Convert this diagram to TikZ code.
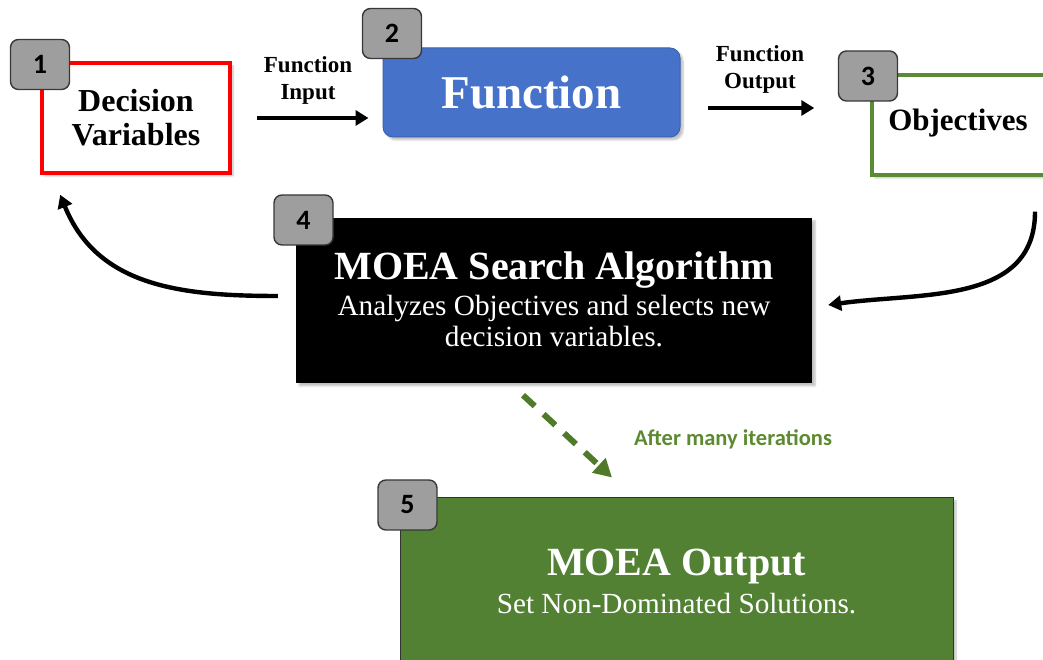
\documentclass[tikz,border=0pt]{standalone}
\usepackage{fontspec}
\setmainfont{Liberation Serif}
\newfontfamily\calfont{Carlito}
\usetikzlibrary{arrows.meta,calc,shadows.blur}
\definecolor{badgegray}{HTML}{9E9E9E}
\definecolor{badgeline}{HTML}{383838}
\definecolor{fnblue}{HTML}{4673C9}
\definecolor{fnblueline}{HTML}{3A62AE}
\definecolor{objgreen}{HTML}{5A8A36}
\definecolor{outgreen}{HTML}{528133}
\definecolor{dashgreen}{HTML}{4E7A2A}
\definecolor{labgreen}{HTML}{5B8A30}
\begin{document}
\begin{tikzpicture}[x=1pt,y=1pt,
  badge/.style={draw=badgeline,line width=1.4pt,fill=badgegray,rounded corners=8pt,
    minimum width=59pt,minimum height=50pt,inner sep=0pt,
    font=\calfont\bfseries\fontsize{28}{28}\selectfont,text=black},
  softshadow/.style={blur shadow={shadow xshift=3pt,shadow yshift=-3pt,shadow blur steps=6,shadow opacity=25}},
  flowarr/.style={line width=4.8pt,-{Triangle[length=13pt,width=15pt]}},
  curvarr/.style={line width=4.4pt,-{Triangle[length=13pt,width=15pt]}},
  smalllab/.style={font=\bfseries\fontsize{23}{27}\selectfont,align=center},
  box/.style={inner sep=0pt,align=center}
]
\useasboundingbox (0,0) rectangle (1043,660);
\begin{scope}
\clip (0,0) rectangle (1043,660);
% Box 1
\node[box,draw=red,line width=3.6pt,fill=white,softshadow,minimum width=188pt,minimum height=110pt,
  font=\bfseries\fontsize{32}{34}\selectfont] (n1) at (136,542) {Decision\\Variables};
\node[badge] (b1) at (40,595.5) {1};
% Box 2
\node[box,draw=fnblueline,line width=1pt,fill=fnblue,rounded corners=10pt,softshadow,
  minimum width=297pt,minimum height=89pt,text=white,
  font=\bfseries\fontsize{47}{47}\selectfont] (n2) at (531.5,567.5) {Function};
\node[badge] (b2) at (392,626.5) {2};
% Box 3
\node[box,draw=objgreen,line width=3.4pt,fill=white,softshadow,minimum width=228pt,minimum height=100pt] (n3) at (986,535) {};
\node[box,font=\bfseries\fontsize{31}{34}\selectfont] (n3t) at (958,537) {Objectives};
\node[badge] (b3) at (868,584) {3};
% Box 4
\node[box,fill=black,softshadow,minimum width=516pt,minimum height=165pt] (n4) at (554,359.5) {};
\node[box,text=white,font=\bfseries\fontsize{40}{40}\selectfont] (n4t) at (554,390) {MOEA Search Algorithm};
\node[box,text=white,font=\fontsize{29.3}{31}\selectfont] (n4s) at (554,339) {Analyzes Objectives and selects new\\decision variables.};
\node[badge] (b4) at (303.5,440) {4};
% Box 5
\node[box,draw=black!80,line width=1pt,fill=outgreen,softshadow,minimum width=553pt,minimum height=222pt] (n5) at (676.5,51) {};
\node[box,text=white,font=\bfseries\fontsize{40}{40}\selectfont] (n5t) at (676.5,93) {MOEA Output};
\node[box,text=white,font=\fontsize{29.2}{31}\selectfont] (n5s) at (676.5,56) {Set Non-Dominated Solutions.};
\node[badge] (b5) at (407.5,155) {5};
% labels
\node[smalllab] (l1) at (308,580) {Function\\Input};
\node[smalllab] (l2) at (760,591) {Function\\Output};
\node[font=\calfont\bfseries\fontsize{22.5}{22.5}\selectfont,text=labgreen] (l3) at (733,221) {After many iterations};
% straight arrows
\coordinate (a1s) at ([xshift=25pt]n1.east);
\coordinate (a1e) at ($(a1s -| n2.west)+(-14,0)$);
\draw[flowarr] (a1s) -- (a1e);
\coordinate (a2s) at ([shift={(27pt,-15.5pt)}]n2.east);
\coordinate (a2e) at ($(a2s -| n3.west)+(-56,0)$);
\draw[flowarr] (a2s) -- (a2e);
% curved arrows
\coordinate (c1s) at ([shift={(-18pt,4.5pt)}]n4.west);
\coordinate (c1e) at ([shift={(20pt,-20pt)}]n1.south west);
\draw[curvarr] (c1s) to[out=180,in=-68,looseness=1.05] (c1e);
\coordinate (c2s) at ([shift={(49pt,-35pt)}]n3.south);
\coordinate (c2e) at ([shift={(16pt,-4.5pt)}]n4.east);
\draw[curvarr] (c2s) to[out=-90,in=8,looseness=1.05] (c2e);
% dashed arrow
\coordinate (d1s) at ([shift={(-31pt,-12pt)}]n4.south);
\coordinate (d1e) at ([shift={(-64.5pt,20pt)}]n5.north);
\draw[dashgreen,line width=6pt,dash pattern=on 16pt off 12pt,-{Triangle[length=18pt,width=19pt]}] (d1s) -- (d1e);
\end{scope}
\end{tikzpicture}
\end{document}
